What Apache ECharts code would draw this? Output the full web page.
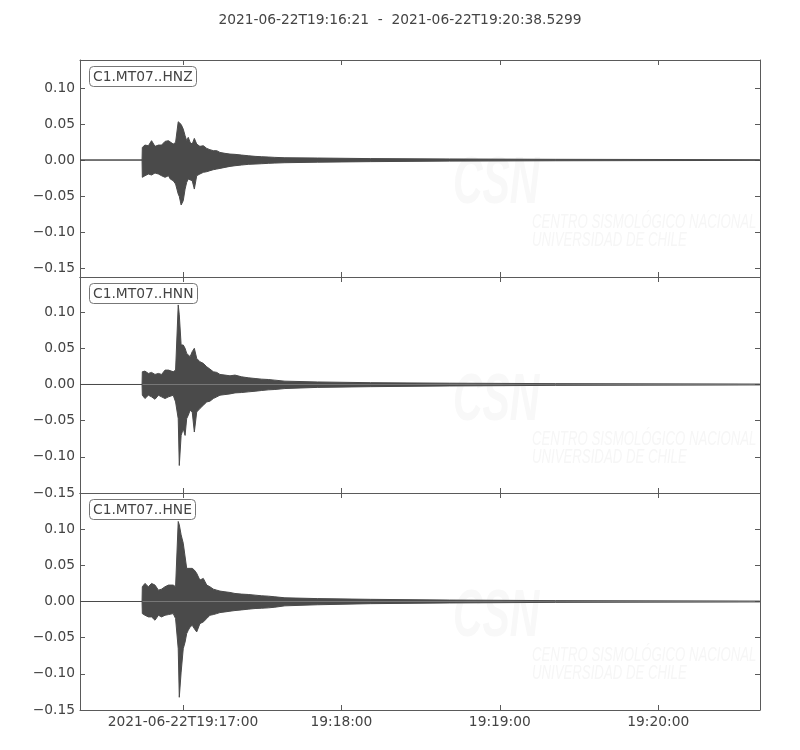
<!DOCTYPE html>
<html>
<head>
<meta charset="utf-8">
<script src="https://cdn.jsdelivr.net/npm/echarts@6/dist/echarts.min.js"></script>
<style>
  html, body { margin: 0; padding: 0; background: #fff; }
  #chart { width: 800px; height: 750px; }
</style>
</head>
<body>
<div id="chart"></div>
<script>
// seconds after 2021-06-22T19:16:21
var times = [0, 23.5, 23.6, 24.6, 25.9, 27.1, 28.4, 29.7, 30.9, 32.2, 33.5, 34.2, 35.3, 36.2,
  37.2, 37.6, 38.3, 39.1, 39.8, 40.4, 41.0, 41.7, 42.5, 43.3, 44.2, 45.4, 46.7, 48.0, 49.2,
  50.5, 51.8, 53.0, 54.9, 56.8, 58.7, 61.2, 63.7, 66.3, 68.8, 71.3, 73.8, 77.6, 90, 110, 140, 180, 257.5];

// envelope of each trace (max / min per time step)
var hnzUp = [0, 0, 0.0176, 0.0208, 0.0199, 0.0269, 0.019, 0.0208, 0.0208, 0.0259, 0.0269, 0.0282, 0.0222, 0.0245,
  0.0532, 0.0514, 0.0495, 0.043, 0.0338, 0.0269, 0.0315, 0.0245, 0.0222, 0.0301, 0.0222, 0.019, 0.0199, 0.0162, 0.0144,
  0.013, 0.013, 0.0106, 0.0093, 0.0083, 0.0079, 0.0069, 0.006, 0.0051, 0.0046, 0.0042, 0.0037, 0.0032, 0.0028, 0.002, 0.0015, 0.001, 0.0005];
var hnzLow = [0, 0, -0.024, -0.0218, -0.0194, -0.0208, -0.018, -0.0194, -0.0218, -0.024, -0.0218, -0.0264, -0.0287, -0.0333,
  -0.0472, -0.0505, -0.0625, -0.0565, -0.0403, -0.031, -0.0264, -0.024, -0.0287, -0.0403, -0.0218, -0.0194, -0.0171, -0.0162, -0.0148,
  -0.0134, -0.0125, -0.0116, -0.0102, -0.0088, -0.0079, -0.0069, -0.006, -0.0056, -0.0051, -0.0046, -0.0042, -0.0037, -0.003, -0.0022, -0.0015, -0.001, -0.0005];

var hnnUp = [0, 0, 0.0176, 0.0185, 0.0153, 0.0167, 0.0139, 0.0153, 0.0139, 0.0199, 0.0199, 0.0185, 0.0176, 0.0199,
  0.110, 0.0963, 0.0546, 0.0546, 0.05, 0.043, 0.0407, 0.0384, 0.0454, 0.05, 0.0361, 0.0315, 0.0292, 0.0245, 0.0213,
  0.0176, 0.0167, 0.0139, 0.013, 0.012, 0.013, 0.0106, 0.0093, 0.0083, 0.0074, 0.0069, 0.006, 0.0046, 0.0035, 0.0025, 0.0018, 0.0012, 0.0006];
var hnnLow = [0, 0, -0.0148, -0.0194, -0.0148, -0.0171, -0.0204, -0.0148, -0.0171, -0.0194, -0.0171, -0.0194, -0.0148, -0.0241,
  -0.0472, -0.112, -0.0704, -0.0611, -0.0704, -0.0472, -0.0426, -0.0356, -0.038, -0.0657, -0.038, -0.0333, -0.0287, -0.0241, -0.0231,
  -0.0194, -0.0171, -0.0148, -0.0139, -0.013, -0.0116, -0.0111, -0.0102, -0.0093, -0.0083, -0.0074, -0.0069, -0.0056, -0.004, -0.003, -0.002, -0.0012, -0.0006];

var hneUp = [0, 0, 0.0204, 0.025, 0.0204, 0.025, 0.0227, 0.0157, 0.0171, 0.0204, 0.0227, 0.0204, 0.0227, 0.0204,
  0.1106, 0.106, 0.0921, 0.0806, 0.0782, 0.0458, 0.0481, 0.0458, 0.0458, 0.0435, 0.0389, 0.0296, 0.0319, 0.0227, 0.0204,
  0.0171, 0.0157, 0.0144, 0.0134, 0.0125, 0.0111, 0.0102, 0.0097, 0.0088, 0.0079, 0.0074, 0.0065, 0.0051, 0.004, 0.003, 0.002, 0.0012, 0.0006];
var hneLow = [0, 0, -0.0167, -0.019, -0.0213, -0.0213, -0.0259, -0.019, -0.0213, -0.019, -0.0181, -0.019, -0.0167, -0.0236,
  -0.0653, -0.1324, -0.0977, -0.0653, -0.056, -0.0444, -0.0398, -0.0352, -0.0329, -0.0375, -0.0421, -0.0306, -0.0282, -0.0236, -0.019,
  -0.0181, -0.0167, -0.0153, -0.0144, -0.0134, -0.0125, -0.0116, -0.0106, -0.0097, -0.0093, -0.0088, -0.0079, -0.006, -0.0045, -0.003, -0.002, -0.0012, -0.0006];

var channels = ['C1.MT07..HNZ', 'C1.MT07..HNN', 'C1.MT07..HNE'];
var yMin = [-0.1625, -0.15, -0.15];
var yMax = [0.139, 0.1486, 0.15];
var yTicks = [-0.15, -0.10, -0.05, 0, 0.05, 0.10];
var xMax = 257.53;
var xTickSeconds = [39, 99, 159, 219];
var xTickLabels = ['2021-06-22T19:17:00', '19:18:00', '19:19:00', '19:20:00'];
var titleText = '2021-06-22T19:16:21  -  2021-06-22T19:20:38.5299';

var ups = [hnzUp, hnnUp, hneUp];
var lows = [hnzLow, hnnLow, hneLow];

var font = 'DejaVu Sans';
var fs = 13.8;
var frame = '#5a5a5a';
var wave = '#4a4a4a';
var panels = [{ top: 60, height: 217 }, { top: 277, height: 216 }, { top: 493, height: 217 }];

var grids = [], xAxes = [], yAxes = [], series = [], titles = [], graphics = [];

titles.push({
    text: titleText, left: 'center', top: 13, padding: 0,
    textStyle: { fontFamily: font, fontSize: fs, fontWeight: 'normal', color: '#444' }
});

panels.forEach(function (p, i) {
    grids.push({ left: 80, right: 40, top: p.top, height: p.height });
    var tick = { show: true, inside: true, length: 5, lineStyle: { color: frame } };
    // bottom + top x axes (ticks mirrored)
    xAxes.push({
        type: 'value', gridIndex: i, position: 'bottom', min: 0, max: xMax,
        axisLine: { show: true, onZero: false, lineStyle: { color: frame, width: 1 } },
        axisTick: Object.assign({ customValues: xTickSeconds }, tick),
        axisLabel: {
            show: i === 2, customValues: xTickSeconds, margin: 5,
            fontFamily: font, fontSize: fs, color: '#444',
            formatter: function (v) { return xTickLabels[xTickSeconds.indexOf(Math.round(v))] || ''; }
        },
        splitLine: { show: false }
    });
    xAxes.push({
        type: 'value', gridIndex: i, position: 'top', min: 0, max: xMax,
        axisLine: { show: true, onZero: false, lineStyle: { color: frame, width: 1 } },
        axisTick: Object.assign({ customValues: xTickSeconds }, tick),
        axisLabel: { show: false }, splitLine: { show: false }
    });
    yAxes.push({
        type: 'value', gridIndex: i, position: 'left', min: yMin[i], max: yMax[i],
        axisLine: { show: true, onZero: false, lineStyle: { color: frame, width: 1 } },
        axisTick: Object.assign({ customValues: yTicks }, tick),
        axisLabel: {
            customValues: yTicks, margin: 5, fontFamily: font, fontSize: fs, color: '#444',
            formatter: function (v) { return v.toFixed(2).replace('-', '\u2212').replace('\u22120.00', '0.00'); }
        },
        splitLine: { show: false }
    });
    yAxes.push({
        type: 'value', gridIndex: i, position: 'right', min: yMin[i], max: yMax[i],
        axisLine: { show: true, onZero: false, lineStyle: { color: frame, width: 1 } },
        axisTick: Object.assign({ customValues: yTicks }, tick),
        axisLabel: { show: false }, splitLine: { show: false }
    });

    [ups[i], lows[i]].forEach(function (arr) {
        series.push({
            type: 'line', xAxisIndex: 2 * i, yAxisIndex: 2 * i,
            data: times.map(function (t, j) { return [t, arr[j]]; }),
            showSymbol: false, symbol: 'none', silent: true, clip: true,
            lineStyle: { color: wave, width: 1 },
            areaStyle: { color: wave, opacity: 1 },
            z: 3
        });
    });

    // channel label box
    titles.push({
        text: channels[i], left: 89, top: p.top + 6,
        padding: [4, 4, 3, 4], borderColor: '#777', borderWidth: 1, borderRadius: 4,
        backgroundColor: '#fff',
        textStyle: { fontFamily: font, fontSize: fs, fontWeight: 'normal', color: '#444' }
    });

    // faint CSN watermark
    graphics.push({
        type: 'text', x: 453, y: p.top + 92, scaleX: 0.62, z: 1, silent: true,
        style: { text: 'CSN', fill: '#f8f8f8', font: 'italic bold 66px "Liberation Sans"' }
    });
    graphics.push({
        type: 'text', x: 532, y: p.top + 153, scaleX: 0.66, z: 1, silent: true,
        style: { text: 'CENTRO SISMOLÓGICO NACIONAL\nUNIVERSIDAD DE CHILE', fill: '#f6f6f6',
                 font: 'italic 20px "Liberation Sans"', lineHeight: 18 }
    });
});

var chart = echarts.init(document.getElementById('chart'));
chart.setOption({
    animation: false,
    backgroundColor: '#fff',
    title: titles,
    grid: grids,
    xAxis: xAxes,
    yAxis: yAxes,
    graphic: graphics,
    series: series
});
</script>
</body>
</html>
